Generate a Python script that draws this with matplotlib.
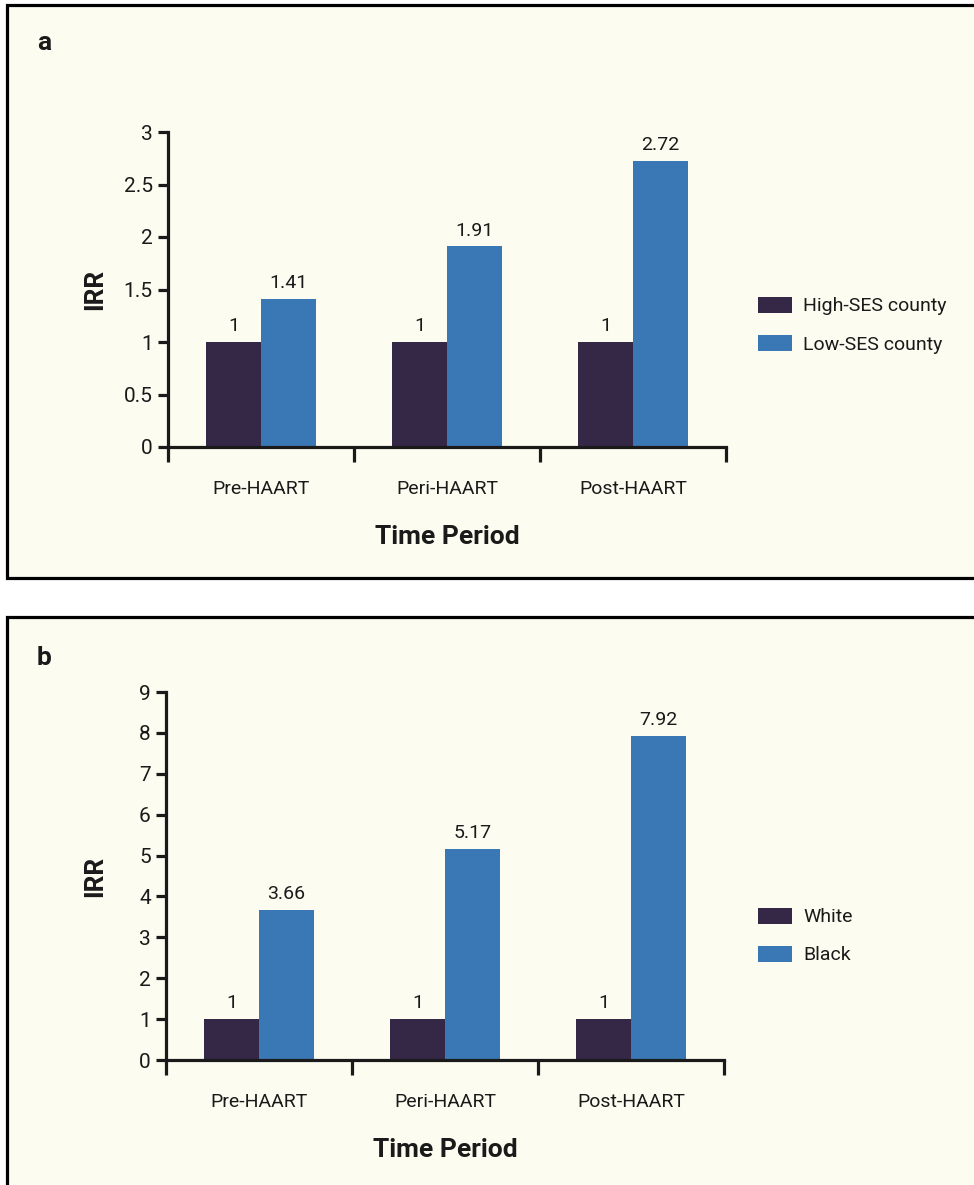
import matplotlib
matplotlib.use("Agg")
import matplotlib.pyplot as plt
from matplotlib.patches import Rectangle
import numpy as np

periods = ["Pre-HAART", "Peri-HAART", "Post-HAART"]
a_ref = [1, 1, 1]
a_low = [1.41, 1.91, 2.72]
a_names = ["High-SES county", "Low-SES county"]
b_ref = [1, 1, 1]
b_black = [3.66, 5.17, 7.92]
b_names = ["White", "Black"]

DARK = "#352746"
BLUE = "#3A78B5"
BG = "#FCFCF0"
INK = "#1a1a1a"
FONT = ["Roboto", "DejaVu Sans"]
plt.rcParams["font.family"] = FONT

W, H = 974, 1185
fig = plt.figure(figsize=(W / 100, H / 100), dpi=100)
fig.patch.set_facecolor("white")

def fy(py):
    return 1 - py / H

def fx(px):
    return px / W

# panel boxes
for top, bot in [(5, 578), (617, 1195)]:
    fig.patches.append(Rectangle((fx(7), fy(bot)), fx(990) - fx(7), fy(top) - fy(bot),
                                 transform=fig.transFigure, facecolor=BG,
                                 edgecolor="black", linewidth=2.3, zorder=-5))

TS = 14

def panel(left, right, top, bottom, ref, other, names, ymax, yticks, letter, letter_y, leg_y):
    ax = fig.add_axes([fx(left), fy(bottom), fx(right) - fx(left), fy(top) - fy(bottom)])
    ax.set_zorder(2)
    ax.set_facecolor("none")
    x = np.arange(len(periods))
    w = 0.295
    b1 = ax.bar(x - w / 2, ref, width=w, color=DARK, label=names[0], zorder=2)
    b2 = ax.bar(x + w / 2, other, width=w, color=BLUE, label=names[1], zorder=2)
    for bars, vals in [(b1, ref), (b2, other)]:
        for r, v in zip(bars, vals):
            ax.annotate(f"{v:g}", (r.get_x() + r.get_width() / 2, r.get_height()),
                        xytext=(0, 5), textcoords="offset points",
                        ha="center", va="bottom", fontsize=TS, color=INK)
    ax.set_xlim(-0.5, 2.5)
    ax.set_ylim(0, ymax)
    for s in ["top", "right"]:
        ax.spines[s].set_visible(False)
    for s in ["left", "bottom"]:
        ax.spines[s].set_linewidth(2.3)
        ax.spines[s].set_color(INK)
    ax.set_yticks(yticks)
    ax.set_yticklabels([f"{t:g}" for t in yticks], fontsize=TS + 1, color=INK)
    ax.tick_params(axis="y", length=7, width=2.3, color=INK, pad=4)
    ax.set_xticks([-0.5, 0.5, 1.5, 2.5])
    ax.set_xticklabels([])
    ax.tick_params(axis="x", which="major", length=11, width=2.3, color=INK, direction="out")
    ax.set_xticks(x, minor=True)
    ax.set_xticklabels(periods, minor=True, fontsize=TS, color=INK)
    ax.tick_params(axis="x", which="minor", length=0, pad=24)
    hpx = bottom - top
    wpx = right - left
    ax.set_xlabel("Time Period", fontsize=19, fontweight="bold", color=INK)
    ax.xaxis.set_label_coords(0.5, -90 / hpx)
    ax.xaxis.label.set_va("center")
    ax.set_ylabel("IRR", fontsize=19, fontweight="bold", color=INK)
    ax.yaxis.set_label_coords((95 - left) / wpx, 0.5)
    ax.yaxis.label.set_va("center")
    fig.text(fx(37), fy(letter_y), letter, fontsize=19, fontweight="bold", color=INK, va="center")
    leg = ax.legend(loc="center left", bbox_to_anchor=(fx(740), fy(leg_y)),
                    bbox_transform=fig.transFigure, frameon=False, fontsize=TS,
                    handlelength=1.75, handleheight=0.9, labelspacing=1.0, handletextpad=0.6)
    for t in leg.get_texts():
        t.set_color(INK)
    return ax

panel(168, 726, 132, 447, a_ref, a_low, a_names,
      3, [0, 0.5, 1, 1.5, 2, 2.5, 3], "a", 43, 325)
panel(166, 724, 692, 1060, b_ref, b_black, b_names,
      9, list(range(10)), "b", 658, 936)

fig.savefig("out.png", dpi=100, facecolor=fig.get_facecolor())
